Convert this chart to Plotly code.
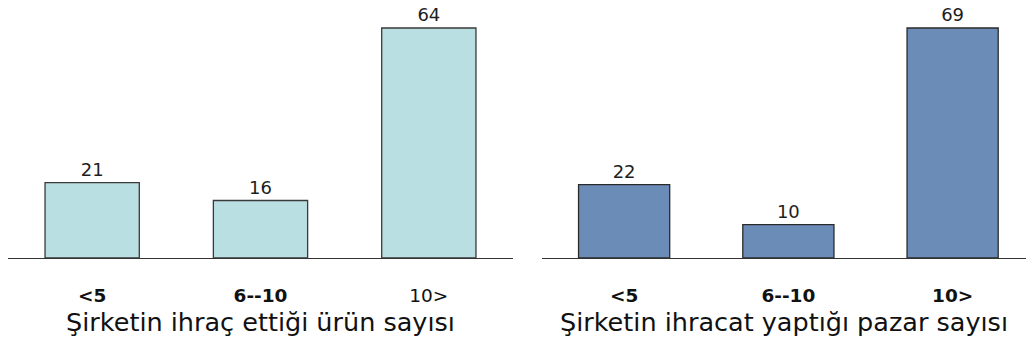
import plotly.graph_objects as go

categories = ["<5", "6--10", "10>"]
left_values = [21, 16, 64]
right_values = [22, 10, 69]
left_ticktext = ["<b>&lt;5</b>", "<b>6--10</b>", "10&gt;"]
right_ticktext = ["<b>&lt;5</b>", "<b>6--10</b>", "<b>10&gt;</b>"]
left_title = "Şirketin ihraç ettiği ürün sayısı"
right_title = "Şirketin ihracat yaptığı pazar sayısı"

W, H = 1026, 347
base_px = 258
y_bottom = 1 - base_px / H

fig = go.Figure()
fig.add_trace(go.Bar(
    x=[0, 1, 2], y=left_values, xaxis="x", yaxis="y",
    marker=dict(color="#BADFE2", line=dict(color="#3A3A3A", width=1.3)),
    text=[str(v) for v in left_values], textposition="outside",
    textfont=dict(size=18, color="#1E1E1E", family="DejaVu Sans"),
    cliponaxis=False, width=0.56, showlegend=False,
))
fig.add_trace(go.Bar(
    x=[0, 1, 2], y=right_values, xaxis="x2", yaxis="y2",
    marker=dict(color="#6C8CB8", line=dict(color="#2A2A2A", width=1.3)),
    text=[str(v) for v in right_values], textposition="outside",
    textfont=dict(size=18, color="#1E1E1E", family="DejaVu Sans"),
    cliponaxis=False, width=0.555, showlegend=False,
))

axis_common = dict(
    showgrid=False, zeroline=False, showline=True, linecolor="#333333", linewidth=1.2,
    ticks="outside", ticklen=21, tickcolor="rgba(0,0,0,0)",
    tickfont=dict(size=18.5, color="#111111", family="DejaVu Sans"),
    fixedrange=True,
)

fig.update_layout(
    width=W, height=H,
    margin=dict(l=0, r=0, t=0, b=0),
    paper_bgcolor="white", plot_bgcolor="white",
    font=dict(family="DejaVu Sans", color="#111111"),
    xaxis=dict(domain=[8 / W, 513 / W], range=[-0.5, 2.5],
               tickvals=[0, 1, 2], ticktext=left_ticktext,
               title=dict(text=left_title, font=dict(size=25.5, color="#111111"), standoff=7),
               anchor="y", **axis_common),
    xaxis2=dict(domain=[542 / W, 1.0], range=[-0.5, (1026 - 542) / 164.25 - 0.5],
                tickvals=[0, 1, 2], ticktext=right_ticktext,
                title=dict(text=right_title, font=dict(size=25.5, color="#111111"), standoff=7),
                anchor="y2", **axis_common),
    yaxis=dict(domain=[y_bottom, 1.0], range=[0, base_px / (230 / 64)], visible=False, fixedrange=True),
    yaxis2=dict(domain=[y_bottom, 1.0], range=[0, base_px / (230 / 69)], visible=False, fixedrange=True),
)

fig.write_html("out.html")
